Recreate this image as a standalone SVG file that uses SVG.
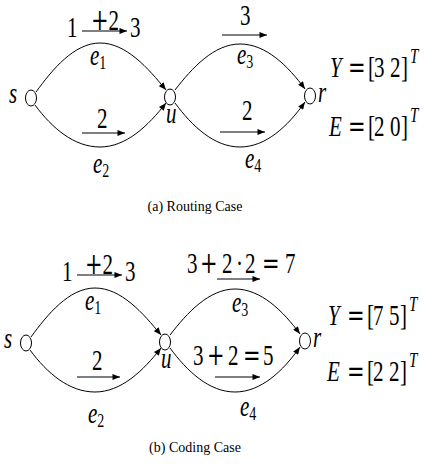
<svg xmlns="http://www.w3.org/2000/svg" width="426" height="466" viewBox="0 0 426 466">
<defs>
<marker id="ah" viewBox="0 0 10 8" refX="10" refY="4" markerWidth="8" markerHeight="6" markerUnits="userSpaceOnUse" orient="auto"><path d="M0,0 L10,4 L0,8 z" fill="#000"/></marker>
</defs>
<style>
.edge{fill:none;stroke:#000;stroke-width:1;marker-end:url(#ah)}
.node{fill:#fff;stroke:#000;stroke-width:1}
.la{fill:none;stroke:#000;stroke-width:1.2;marker-end:url(#ah)}
.t{font-family:"Liberation Serif",serif;font-size:21px;fill:#000}
.i{font-style:italic}
.s{font-size:14px;font-style:normal}
.op{font-family:"DejaVu Serif",serif;font-style:normal}
.cap{font-family:"Liberation Serif",serif;font-size:14px;fill:#000}
</style>
<!-- (a) Routing case -->
<g id="routing">
<g id="edges-a">
<path class="edge" d="M36,92 C52,70 74,43 100,43 C126,43 148,68 166,90"/>
<path class="edge" d="M35,105 C52,128 74,147 100,147 C126,147 148,126 166,103"/>
<path class="edge" d="M175,90 C192,68 214,44 240,44 C266,44 288,66 305,89"/>
<path class="edge" d="M175,103 C192,126 214,147 240,147 C266,147 288,126 305,102"/>
<path class="la" d="M82,31 H127"/>
<path class="la" d="M82,133 H125"/>
<path class="la" d="M222,35 H267"/>
<path class="la" d="M220,132 H265"/>
</g>
<g id="a-s"><ellipse class="node" cx="31" cy="98" rx="5.5" ry="8"/><text class="t i" x="9" transform="translate(0,103) scale(1,1.4)">s</text></g>
<g id="a-u"><ellipse class="node" cx="170" cy="97" rx="5.5" ry="8"/><text class="t i" x="166" transform="translate(0,123) scale(1,1.4)">u</text></g>
<g id="a-r"><ellipse class="node" cx="310" cy="96" rx="5.5" ry="8"/><text class="t i" x="318" transform="translate(0,102) scale(1,1.4)">r</text></g>
<g id="a-labels">
<text class="t i" x="90" transform="translate(0,65) scale(1,1.4)">e<tspan class="s" dy="3">1</tspan></text>
<text class="t i" x="93" transform="translate(0,173) scale(1,1.4)">e<tspan class="s" dy="3">2</tspan></text>
<text class="t i" x="237" transform="translate(0,64) scale(1,1.4)">e<tspan class="s" dy="3">3</tspan></text>
<text class="t i" x="245" transform="translate(0,168) scale(1,1.4)">e<tspan class="s" dy="3">4</tspan></text>
<text class="t" x="67" transform="translate(0,37) scale(1,1.4)">1</text>
<text class="t" x="91" transform="translate(0,30) scale(1,1.4)"><tspan class="op">+</tspan>2</text>
<text class="t" x="130" transform="translate(0,37) scale(1,1.4)">3</text>
<text class="t" x="97" transform="translate(0,128) scale(1,1.4)">2</text>
<text class="t" x="240" transform="translate(0,25) scale(1,1.4)">3</text>
<text class="t" x="242" transform="translate(0,120) scale(1,1.4)">2</text>
<text class="t" transform="translate(0,77) scale(1,1.4)"><tspan class="i" x="330">Y</tspan><tspan class="op" x="348">=</tspan><tspan x="368">[</tspan><tspan x="374">3</tspan><tspan x="390">2</tspan><tspan x="401">]</tspan><tspan class="i" x="410" dy="-10" font-size="15">T</tspan></text>
<text class="t" transform="translate(0,136) scale(1,1.4)"><tspan class="i" x="329">E</tspan><tspan class="op" x="348">=</tspan><tspan x="368">[</tspan><tspan x="374">2</tspan><tspan x="390">0</tspan><tspan x="401">]</tspan><tspan class="i" x="410" dy="-10" font-size="15">T</tspan></text>
</g>
<text class="cap" x="195" y="211" text-anchor="middle">(a)  Routing Case</text>
</g>
<!-- (b) Coding case -->
<g id="coding">
<g id="edges-b">
<path class="edge" d="M31,337 C47,315 69,288 95,288 C121,288 143,313 161,335"/>
<path class="edge" d="M30,350 C47,373 69,392 95,392 C121,392 143,371 161,348"/>
<path class="edge" d="M170,335 C187,313 209,289 235,289 C261,289 283,311 300,334"/>
<path class="edge" d="M170,348 C187,371 209,392 235,392 C261,392 283,371 300,347"/>
<path class="la" d="M77,275 H122"/>
<path class="la" d="M77,377 H120"/>
<path class="la" d="M217,279 H260"/>
<path class="la" d="M215,377 H260"/>
</g>
<g id="b-s"><ellipse class="node" cx="26" cy="343" rx="5.5" ry="8"/><text class="t i" x="4" transform="translate(0,348) scale(1,1.4)">s</text></g>
<g id="b-u"><ellipse class="node" cx="165" cy="342" rx="5.5" ry="8"/><text class="t i" x="161" transform="translate(0,368) scale(1,1.4)">u</text></g>
<g id="b-r"><ellipse class="node" cx="305" cy="341" rx="5.5" ry="8"/><text class="t i" x="313" transform="translate(0,347) scale(1,1.4)">r</text></g>
<g id="b-labels">
<text class="t i" x="85" transform="translate(0,310) scale(1,1.4)">e<tspan class="s" dy="3">1</tspan></text>
<text class="t i" x="88" transform="translate(0,423) scale(1,1.4)">e<tspan class="s" dy="3">2</tspan></text>
<text class="t i" x="232" transform="translate(0,312) scale(1,1.4)">e<tspan class="s" dy="3">3</tspan></text>
<text class="t i" x="240" transform="translate(0,416) scale(1,1.4)">e<tspan class="s" dy="3">4</tspan></text>
<text class="t" x="62" transform="translate(0,281) scale(1,1.4)">1</text>
<text class="t" x="85" transform="translate(0,274) scale(1,1.4)"><tspan class="op">+</tspan>2</text>
<text class="t" x="125" transform="translate(0,281) scale(1,1.4)">3</text>
<text class="t" x="92" transform="translate(0,370) scale(1,1.4)">2</text>
<text class="t" transform="translate(0,273) scale(1,1.4)"><tspan x="187">3</tspan><tspan class="op" x="200">+</tspan><tspan x="222">2</tspan><tspan x="236">·</tspan><tspan x="245">2</tspan><tspan class="op" x="262">=</tspan><tspan x="285">7</tspan></text>
<text class="t" transform="translate(0,365) scale(1,1.4)"><tspan x="193">3</tspan><tspan class="op" x="207">+</tspan><tspan x="228">2</tspan><tspan class="op" x="243">=</tspan><tspan x="263">5</tspan></text>
<text class="t" transform="translate(0,325) scale(1,1.4)"><tspan class="i" x="328">Y</tspan><tspan class="op" x="347">=</tspan><tspan x="367">[</tspan><tspan x="373">7</tspan><tspan x="389">5</tspan><tspan x="400">]</tspan><tspan class="i" x="409" dy="-10" font-size="15">T</tspan></text>
<text class="t" transform="translate(0,381) scale(1,1.4)"><tspan class="i" x="327">E</tspan><tspan class="op" x="347">=</tspan><tspan x="367">[</tspan><tspan x="373">2</tspan><tspan x="389">2</tspan><tspan x="400">]</tspan><tspan class="i" x="409" dy="-10" font-size="15">T</tspan></text>
</g>
<text class="cap" x="195" y="452" text-anchor="middle">(b)  Coding Case</text>
</g>
</svg>
